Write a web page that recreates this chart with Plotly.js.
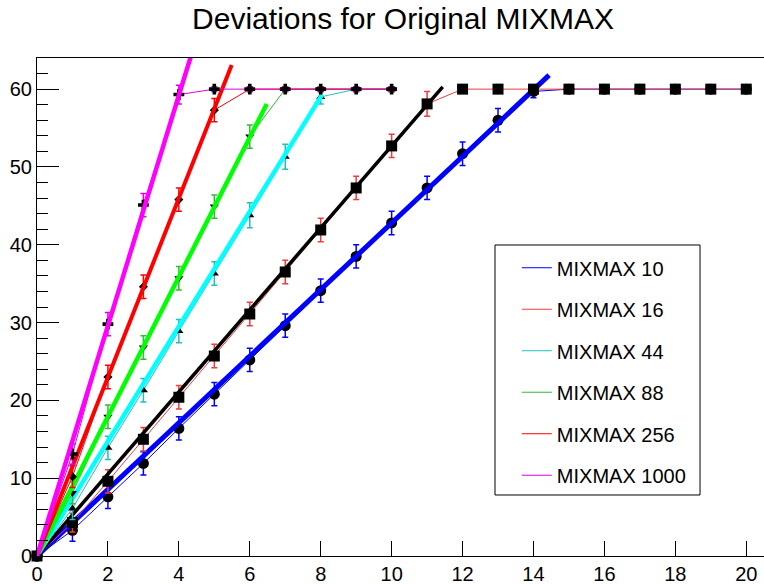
<!DOCTYPE html>
<html>
<head>
<meta charset="utf-8">
<script src="https://cdn.plot.ly/plotly-3.0.1.min.js"></script>
<style>html,body{margin:0;padding:0;background:#fff;}#chart{width:764px;height:584px;}</style>
</head>
<body>
<div id="chart"></div>
<script>
// ---- data ----
var seriesNames = ['MIXMAX 10', 'MIXMAX 16', 'MIXMAX 44', 'MIXMAX 88', 'MIXMAX 256', 'MIXMAX 1000'];

var x10 = [0,1,2,3,4,5,6,7,8,9,10,11,12,13,14,15,16,17,18,19,20];
var y10 = [0,3.3,7.6,11.9,16.4,20.8,25.2,29.6,34.1,38.5,42.8,47.3,51.7,56.0,59.7,60,60,60,60,60,60];
var e10 = [0,1.4,1.5,1.5,1.5,1.5,1.5,1.5,1.5,1.5,1.5,1.5,1.5,1.5,0.8,0,0,0,0,0,0];

var x16 = [0,1,2,3,4,5,6,7,8,9,10,11,12,13,14,15,16,17,18,19,20];
var y16 = [0,4.3,9.6,15.0,20.4,25.7,31.1,36.5,41.9,47.3,52.7,58.1,60,60,60,60,60,60,60,60,60];
var e16 = [0,1.2,1.5,1.5,1.5,1.5,1.5,1.5,1.5,1.5,1.5,1.6,0,0,0,0,0,0,0,0,0];

var x44 = [0,1,2,3,4,5,6,7,8,9,10];
var y44 = [0,6.1,13.9,21.3,28.9,36.3,43.8,51.3,59.0,60,60];
var e44 = [0,1.4,1.5,1.5,1.5,1.5,1.6,1.6,0.9,0.3,0.3];

var x88 = [0,1,2,3,4,5,6,7,8,9,10];
var y88 = [0,8.1,17.9,26.8,35.7,44.9,53.9,60,60,60,60];
var e88 = [0,1.4,1.5,1.5,1.5,1.5,1.5,0.3,0.3,0.3,0.3];

var x256 = [0,1,2,3,4,5,6,7,8,9,10];
var y256 = [0,10.2,23.0,34.6,45.8,57.3,60,60,60,60,60];
var e256 = [0,1.4,1.5,1.5,1.5,1.5,0.3,0.3,0.3,0.3,0.3];

var x1000 = [0,1,2,3,4,5,6,7,8,9,10];
var y1000 = [0,13.1,29.8,45.1,59.3,60,60,60,60,60,60];
var e1000 = [0,1.3,1.5,1.5,1.2,0.3,0.3,0.3,0.3,0.3,0.3];

// straight-line fits: end points
var fitX10 = [0, 14.44],  fitY10 = [0, 61.8];
var fitX16 = [0, 11.44],  fitY16 = [0, 60.3];
var fitX44 = [0, 8.04],   fitY44 = [0, 59.3];
var fitX88 = [0, 6.48],   fitY88 = [0, 58.1];
var fitX256 = [0, 5.49],  fitY256 = [0, 63.1];
var fitX1000 = [0, 4.5],  fitY1000 = [0, 66.6];

var xTicks = [0,2,4,6,8,10,12,14,16,18,20];
var yTicks = [0,10,20,30,40,50,60];

// ---- styling ----
var dataColors = ['#0000ff', '#f03c3c', '#20c0c0', '#33bb33', '#ff0000', '#dd00dd'];
var fitColors  = ['#0000ff', '#000000', '#00ffff', '#00ff00', '#ff0000', '#ff00ff'];
var fitWidths  = [5, 3.5, 4.5, 4.5, 4, 4.5];
var symbols    = ['circle', 'square', 'triangle-up', 'triangle-down', 'diamond', 'cross'];
var msizes     = [11, 11, 8, 8, 7, 9];

var X = [x10, x16, x44, x88, x256, x1000];
var Y = [y10, y16, y44, y88, y256, y1000];
var E = [e10, e16, e44, e88, e256, e1000];
var FX = [fitX10, fitX16, fitX44, fitX88, fitX256, fitX1000];
var FY = [fitY10, fitY16, fitY44, fitY88, fitY256, fitY1000];

var traces = [];
for (var i = 0; i < seriesNames.length; i++) {
  traces.push({
    type: 'scatter', mode: 'lines', name: seriesNames[i],
    legendgroup: 'g' + i,
    x: X[i], y: Y[i],
    line: {color: dataColors[i], width: 1},
    hoverinfo: 'skip'
  });
  traces.push({
    type: 'scatter', mode: 'markers', showlegend: false, legendgroup: 'g' + i,
    x: X[i], y: Y[i],
    marker: {symbol: symbols[i], size: msizes[i], color: '#000000', line: {width: 0}},
    error_y: {type: 'data', array: E[i], visible: true, color: dataColors[i], thickness: 1.5, width: 3},
    cliponaxis: false
  });
  traces.push({
    type: 'scatter', mode: 'lines', showlegend: false, legendgroup: 'g' + i,
    x: FX[i], y: FY[i],
    line: {color: fitColors[i], width: fitWidths[i]},
    hoverinfo: 'skip'
  });
}

var font = 'Liberation Sans, Arial, Helvetica, sans-serif';
var layout = {
  width: 764, height: 584,
  margin: {l: 37, r: 0, t: 58, b: 28, pad: 0},
  paper_bgcolor: '#ffffff', plot_bgcolor: '#ffffff',
  font: {family: font, size: 20, color: '#000000'},
  title: {text: 'Deviations for Original MIXMAX', font: {family: font, size: 30, color: '#000'},
          x: 0.5275, xanchor: 'center', xref: 'container', y: 0.968, yanchor: 'middle'},
  xaxis: {range: [0, 20.5], tickvals: xTicks, ticktext: xTicks.map(String),
          ticks: 'inside', ticklen: 15, tickwidth: 1, tickcolor: '#000',
          showline: true, linecolor: '#000', linewidth: 1, mirror: true,
          showgrid: false, zeroline: false, tickfont: {size: 20}},
  yaxis: {range: [0, 64], tickvals: yTicks, ticktext: yTicks.map(String),
          ticks: 'inside', ticklen: 22, tickwidth: 1, tickcolor: '#000',
          minor: {dtick: 2, tick0: 0, ticks: 'inside', ticklen: 11, tickwidth: 1, tickcolor: '#000', showgrid: false},
          showline: true, linecolor: '#000', linewidth: 1, mirror: false,
          showgrid: false, zeroline: false, tickfont: {size: 20}},
  showlegend: true,
  legend: {x: 0.66, y: 0.618, xanchor: 'left', yanchor: 'top',
           bgcolor: 'rgba(0,0,0,0)', borderwidth: 0,
           traceorder: 'grouped', tracegroupgap: 12.5,
           font: {family: font, size: 20, color: '#000'}, itemwidth: 30},
  shapes: [{type: 'rect', xref: 'paper', yref: 'paper', x0: 0.630, x1: 0.912, y0: 0.1225, y1: 0.6245,
            line: {color: '#000', width: 1}, fillcolor: 'rgba(255,255,255,1)', layer: 'below'}]
};

Plotly.newPlot('chart', traces, layout, {displayModeBar: false, staticPlot: true});
</script>
</body>
</html>
